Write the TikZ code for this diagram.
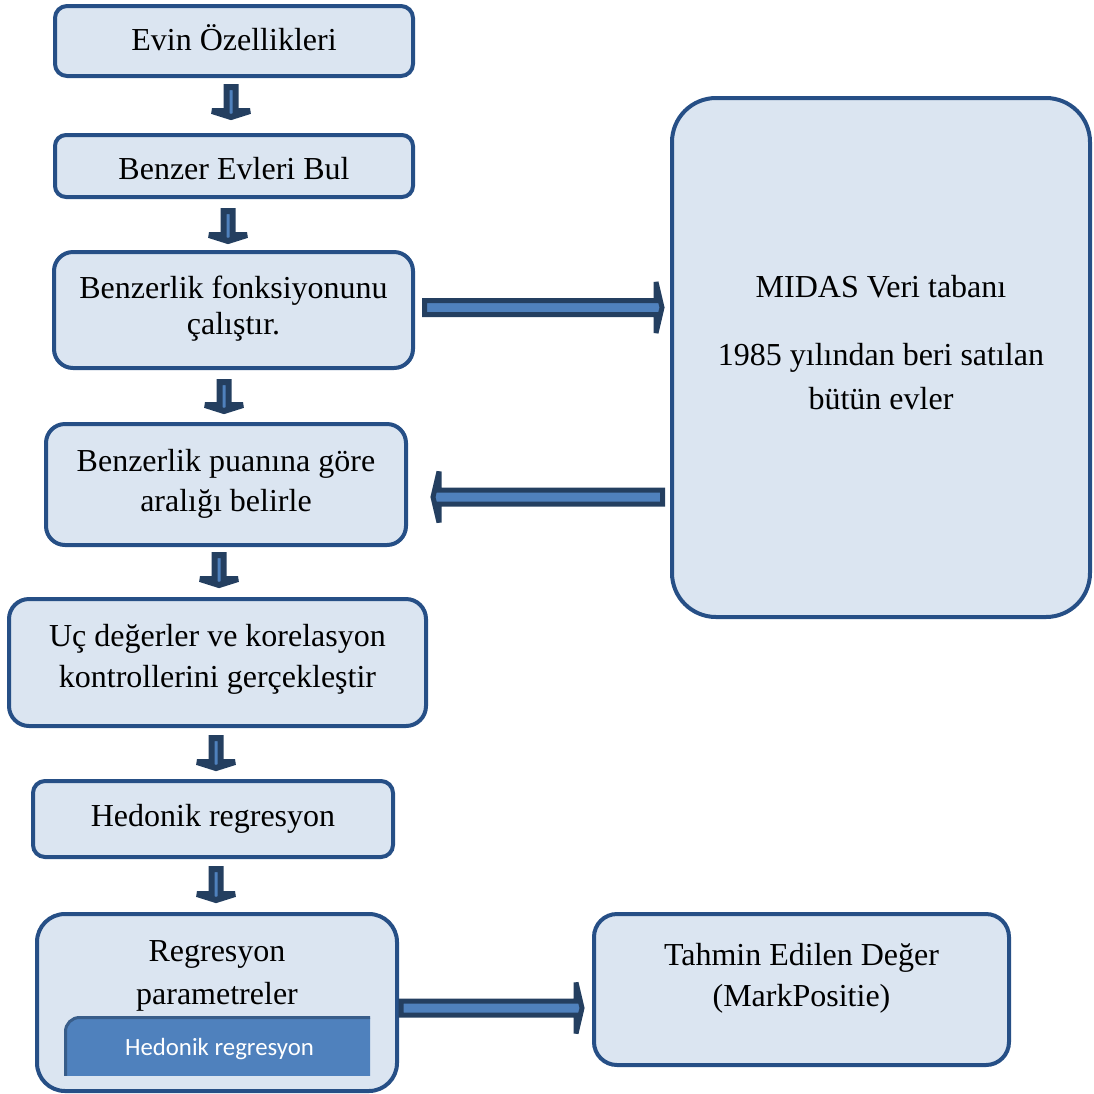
\documentclass[tikz,border=0pt]{standalone}
\usepackage{fontspec}
\setmainfont{Liberation Serif}
\newfontfamily\calfont{Carlito}
\usetikzlibrary{calc}
\definecolor{boxfill}{HTML}{DBE5F1}
\definecolor{boxline}{HTML}{264F86}
\definecolor{arrline}{HTML}{243F60}
\definecolor{arrfill}{HTML}{4F81BD}
\definecolor{innerline}{HTML}{385D8A}
% vertical block arrow: #1 top of shaft, #2 tip
\newcommand\myvarrow[2]{%
  \draw[vblock] let \p1=(#1), \p2=(#2) in
    (\x1-2.25pt,\y1) -- (\x1-2.25pt,\y2+3pt) -- (\x1-9.5pt,\y2+3pt) -- (\x1,\y2)
    -- (\x1+9.5pt,\y2+3pt) -- (\x1+2.25pt,\y2+3pt) -- (\x1+2.25pt,\y1) -- cycle;}
% horizontal block arrow: #1 tail, #2 tip, #3 direction (1 right, -1 left)
\newcommand\myharrow[3]{%
  \draw[hblock] let \p1=(#1), \p2=(#2) in
    (\x1,\y1-3.5pt) -- (\x2-#3*3pt,\y1-3.5pt) -- (\x2-#3*3pt,\y1-12.75pt) -- (\x2,\y1)
    -- (\x2-#3*3pt,\y1+12.75pt) -- (\x2-#3*3pt,\y1+3.5pt) -- (\x1,\y1+3.5pt) -- cycle;}
\begin{document}
\begin{tikzpicture}[x=0.5pt,y=-0.5pt,
  box/.style={draw=boxline, fill=boxfill, line width=2pt, rectangle, inner sep=0pt},
  txt/.style={font=\fontsize{16}{20}\selectfont, align=center, inner sep=0pt, anchor=base},
  vblock/.style={draw=arrline, fill=arrfill, line width=3pt, line join=miter, miter limit=2},
  hblock/.style={draw=arrline, fill=arrfill, line width=2.5pt, line join=miter, miter limit=2},
  innerbox/.style={draw=innerline, fill=arrfill, line width=1.5pt, rectangle, inner sep=0pt, rounded corners=7pt}]
\useasboundingbox (0,0) rectangle (1094,1094);

% boxes
\node[box, minimum width=179pt, minimum height=35pt, rounded corners=6pt] (b1) at (234,41) {};
\node[box, minimum width=179pt, minimum height=31pt, rounded corners=5.5pt] (b2) at (234,166) {};
\node[box, minimum width=179.5pt, minimum height=58pt, rounded corners=9.5pt] (b3) at (233.5,310) {};
\node[box, minimum width=180pt, minimum height=60.5pt, rounded corners=9.5pt] (b4) at (226,484.5) {};
\node[box, minimum width=208.5pt, minimum height=63.5pt, rounded corners=10pt] (b5) at (217.5,662.5) {};
\node[box, minimum width=180pt, minimum height=38pt, rounded corners=6pt] (b6) at (213,819) {};
\node[box, minimum width=180pt, minimum height=88.5pt, rounded corners=14pt] (b7) at (217,1002.5) {};
\node[box, minimum width=209pt, minimum height=259.5pt, rounded corners=22pt] (db) at (881,357.5) {};
\node[box, minimum width=207.5pt, minimum height=75.5pt, rounded corners=11.5pt] (b9) at (801.5,989.5) {};

% inner box (clipped)
\begin{scope}
  \clip (55,1005) rectangle (370,1075);
  \node[innerbox, minimum width=164.75pt, minimum height=42.5pt] (inner) at (230.25,1060) {};
\end{scope}

% texts (anchor = baseline of the last line)
\node[txt] (t1) at (234,50) {Evin Özellikleri};
\node[txt] (t2) at (234,179) {Benzer Evleri Bul};
\node[txt, font=\fontsize{16}{18}\selectfont] (t3) at (233.5,334) {Benzerlik fonksiyonunu\\çalıştır.};
\node[txt] (t4) at (226,511) {Benzerlik puanına göre\\aralığı belirle};
\node[txt, font=\fontsize{16}{20.5}\selectfont] (t5) at (217.5,687) {Uç değerler ve korelasyon\\kontrollerini gerçekleştir};
\node[txt] (t6) at (213,826) {Hedonik regresyon};
\node[txt, font=\fontsize{16}{21.5}\selectfont] (t7) at (217,1004) {Regresyon\\parametreler};
\node[txt, font=\fontsize{16}{22}\selectfont] (tdb) at (881,409) {MIDAS Veri tabanı\\[12pt]1985 yılından beri satılan\\bütün evler};
\node[txt, font=\fontsize{16}{20.5}\selectfont] (t9) at (801.5,1006) {Tahmin Edilen Değer\\(MarkPositie)};
\node[txt, font=\calfont\fontsize{12.4}{15}\selectfont, text=white] (tin) at (219.5,1055) {Hedonik regresyon};

% vertical arrows
\coordinate (a1t) at ($(b1.south)+(-3,9)$);   \coordinate (a1h) at ($(b2.north)+(-3,-16)$);
\coordinate (a2t) at ($(b2.south)+(-6,12)$);  \coordinate (a2h) at ($(b3.north)+(-5.5,-9)$);
\coordinate (a3t) at ($(b3.south)+(-9.5,12)$); \coordinate (a3h) at ($(b4.north)+(-2,-11)$);
\coordinate (a4t) at ($(b4.south)+(-7,8)$);   \coordinate (a4h) at ($(b5.north)+(1.5,-12)$);
\coordinate (a5t) at ($(b5.south)+(-1.5,10)$); \coordinate (a5h) at ($(b6.north)+(3,-11)$);
\coordinate (a6t) at ($(b6.south)+(3,10)$);   \coordinate (a6h) at ($(b7.north)+(-1,-12)$);
\myvarrow{a1t}{a1h}
\myvarrow{a2t}{a2h}
\myvarrow{a3t}{a3h}
\myvarrow{a4t}{a4h}
\myvarrow{a5t}{a5h}
\myvarrow{a6t}{a6h}

% horizontal arrows
\coordinate (h1t) at ($(b3.east)+(9.5,-2.5)$);
\coordinate (h1h) at ($(h1t -| db.west)+(-8,0)$);
\coordinate (h2t) at ($(db.west)+(-7.5,139.5)$);
\coordinate (h2h) at ($(h2t -| b4.east)+(25,0)$);
\coordinate (h3t) at ($(b7.east)+(2,5.5)$);
\coordinate (h3h) at ($(h3t -| b9.west)+(-10,0)$);
\myharrow{h1t}{h1h}{1}
\myharrow{h2t}{h2h}{-1}
\myharrow{h3t}{h3h}{1}
\end{tikzpicture}
\end{document}
